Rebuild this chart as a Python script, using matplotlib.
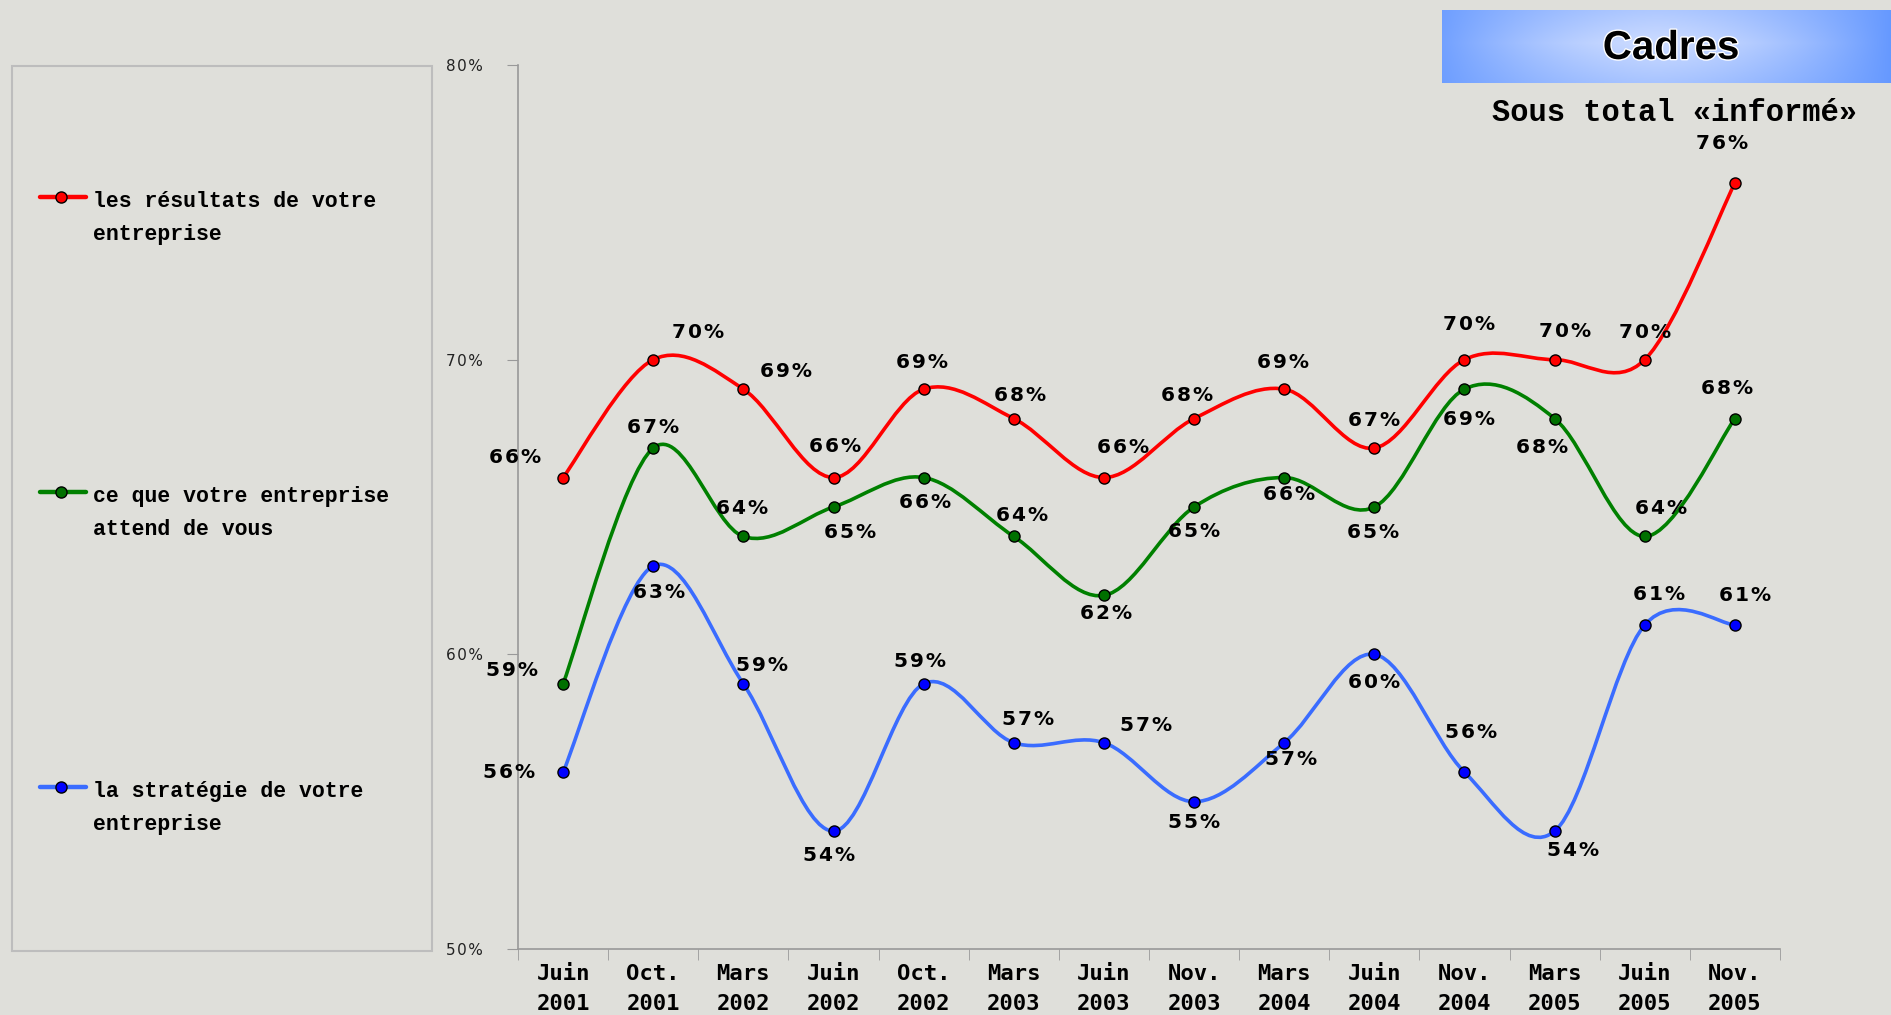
import numpy as np
import matplotlib.pyplot as plt
from matplotlib.path import Path
from matplotlib.patches import PathPatch, Rectangle
from matplotlib.lines import Line2D
import matplotlib.patheffects as pe

months = ["Juin", "Oct.", "Mars", "Juin", "Oct.", "Mars", "Juin",
          "Nov.", "Mars", "Juin", "Nov.", "Mars", "Juin", "Nov."]
years = ["2001", "2001", "2002", "2002", "2002", "2003", "2003",
         "2003", "2004", "2004", "2004", "2005", "2005", "2005"]

resultats = [66, 70, 69, 66, 69, 68, 66, 68, 69, 67, 70, 70, 70, 76]
attentes = [59, 67, 64, 65, 66, 64, 62, 65, 66, 65, 69, 68, 64, 68]
strategie = [56, 63, 59, 54, 59, 57, 57, 55, 57, 60, 56, 54, 61, 61]

names = ["les résultats de votre\nentreprise",
         "ce que votre entreprise\nattend de vous",
         "la stratégie de votre\nentreprise"]
y_ticks = [50, 60, 70, 80]

# label offsets (pixels, x right / y up)
off_res = [(-48, 20), (45, 27), (43, 18), (2, 31), (-2, 27), (6, 23), (19, 30),
           (-7, 23), (-1, 27), (0, 28), (5, 35), (10, 28), (0, 27), (-13, 39)]
off_att = [(-51, 13), (0, 21), (-1, 28), (17, -25), (1, -25), (8, 21), (2, -18),
           (0, -24), (5, -17), (-1, -25), (5, -30), (-13, -29), (16, 28), (-8, 30)]
off_str = [(-54, 0), (6, -27), (19, 18), (-4, -24), (-4, 22), (14, 23), (42, 17),
           (0, -21), (7, -17), (0, -28), (7, 40), (18, -19), (14, 30), (10, 29)]

W, H = 1891, 1015
bg = "#dfdfda"
HS = "\u200a"


def fx(x):
    return x / W


def fy(y):
    return 1 - y / H


def spaced(s):
    return HS.join(s)


def smooth(xs, ys):
    p = np.column_stack([xs, ys]).astype(float)
    n = len(p)
    verts = [p[0]]
    codes = [Path.MOVETO]
    for i in range(n - 1):
        p0 = p[i - 1] if i > 0 else p[i]
        p3 = p[i + 2] if i + 2 < n else p[i + 1]
        verts += [p[i] + (p[i + 1] - p0) / 6, p[i + 1] - (p3 - p[i]) / 6, p[i + 1]]
        codes += [Path.CURVE4] * 3
    return Path(verts, codes)


fig = plt.figure(figsize=(W / 100, H / 100), dpi=100, facecolor=bg)
ax = fig.add_axes([fx(518), fy(949), fx(1780) - fx(518), fy(65) - fy(949)])
ax.set_facecolor(bg)

x = np.arange(len(months))
series = [
    (resultats, "#ff0000", "#ff0000", off_res),
    (attentes, "#008000", "#007000", off_att),
    (strategie, "#3a6cff", "#0000ff", off_str),
]

for vals, lc, mc, offs in series:
    ax.add_patch(PathPatch(smooth(x, vals), fill=False, edgecolor=lc, lw=2.6,
                           capstyle="round", joinstyle="round", zorder=3))
    ax.plot(x, vals, "o", ms=8, mfc=mc, mec="black", mew=1, zorder=4)
    for xi, v, (dx, dy) in zip(x, vals, offs):
        ax.annotate(spaced(f"{v}%"), (xi, v), xytext=(dx, dy), textcoords="offset pixels",
                    ha="center", va="center", fontsize=14.5, fontweight="bold",
                    family=["DejaVu Sans", "DejaVu Sans Mono"], color="black", zorder=5)

ax.set_xlim(-0.5, len(months) - 0.5)
ax.set_ylim(50, 80)
ax.set_yticks(y_ticks)
ax.set_yticklabels([spaced(f"{t}%") for t in y_ticks], family="DejaVu Sans",
                   fontsize=11, color="#222222")
ax.set_xticks(x)
ax.set_xticklabels([f"{m}\n{yv}" for m, yv in zip(months, years)],
                   family="DejaVu Sans Mono", fontweight="bold", fontsize=16,
                   linespacing=1.6)
ax.set_xticks(np.arange(-0.5, len(months)), minor=True)
ax.tick_params(axis="x", which="major", length=0, pad=11)
ax.tick_params(axis="x", which="minor", length=8, color="#999999", direction="out")
ax.tick_params(axis="y", length=8, color="#999999", direction="out", pad=17)
for s in ["top", "right"]:
    ax.spines[s].set_visible(False)
for s in ["left", "bottom"]:
    ax.spines[s].set_color("#999999")
    ax.spines[s].set_linewidth(1.2)

# legend box
fig.add_artist(Rectangle((fx(12), fy(951)), fx(432) - fx(12), fy(66) - fy(951),
                         transform=fig.transFigure, fill=False,
                         edgecolor="#bdbdbd", lw=1.5))
for (vals, lc, mc, offs), name, ly in zip(series, names, [197, 492, 787]):
    fig.add_artist(Line2D([fx(40), fx(86)], [fy(ly), fy(ly)], color=lc, lw=3.2,
                          solid_capstyle="round", transform=fig.transFigure))
    fig.add_artist(Line2D([fx(61)], [fy(ly)], marker="o", ms=8, mfc=mc, mec="black",
                          mew=1, transform=fig.transFigure))
    fig.text(fx(93), fy(ly + 21), name, ha="left", va="center", fontsize=15.5,
             fontweight="bold", family="Liberation Mono", linespacing=1.75)

# title banner
bax = fig.add_axes([fx(1442), fy(83), 1 - fx(1442), fy(10) - fy(83)])
u = np.linspace(0, 1, 400)
v = np.linspace(0, 1, 60)
U, V = np.meshgrid(u, v)
w = np.clip(1 - (np.abs(U - 0.48) / 0.52) ** 1.6, 0, 1) * (1 - 0.35 * np.abs(V - 0.45) / 0.55)
edge = np.array([0.40, 0.60, 1.0])
centre = np.array([0.80, 0.86, 1.0])
img = edge + (centre - edge) * w[..., None]
bax.imshow(img, aspect="auto", extent=(0, 1, 0, 1))
bax.set_axis_off()
bax.text(0.51, 0.48, "Cadres", ha="center", va="center", fontsize=29,
         fontweight="bold", family="Liberation Sans",
         path_effects=[pe.withStroke(linewidth=2, foreground="white")])

fig.text(fx(1675), fy(113), "Sous total «informé»", ha="center", va="center",
         fontsize=22, fontweight="bold", family="Liberation Mono")

fig.savefig("out.png", dpi=100, facecolor=bg)
